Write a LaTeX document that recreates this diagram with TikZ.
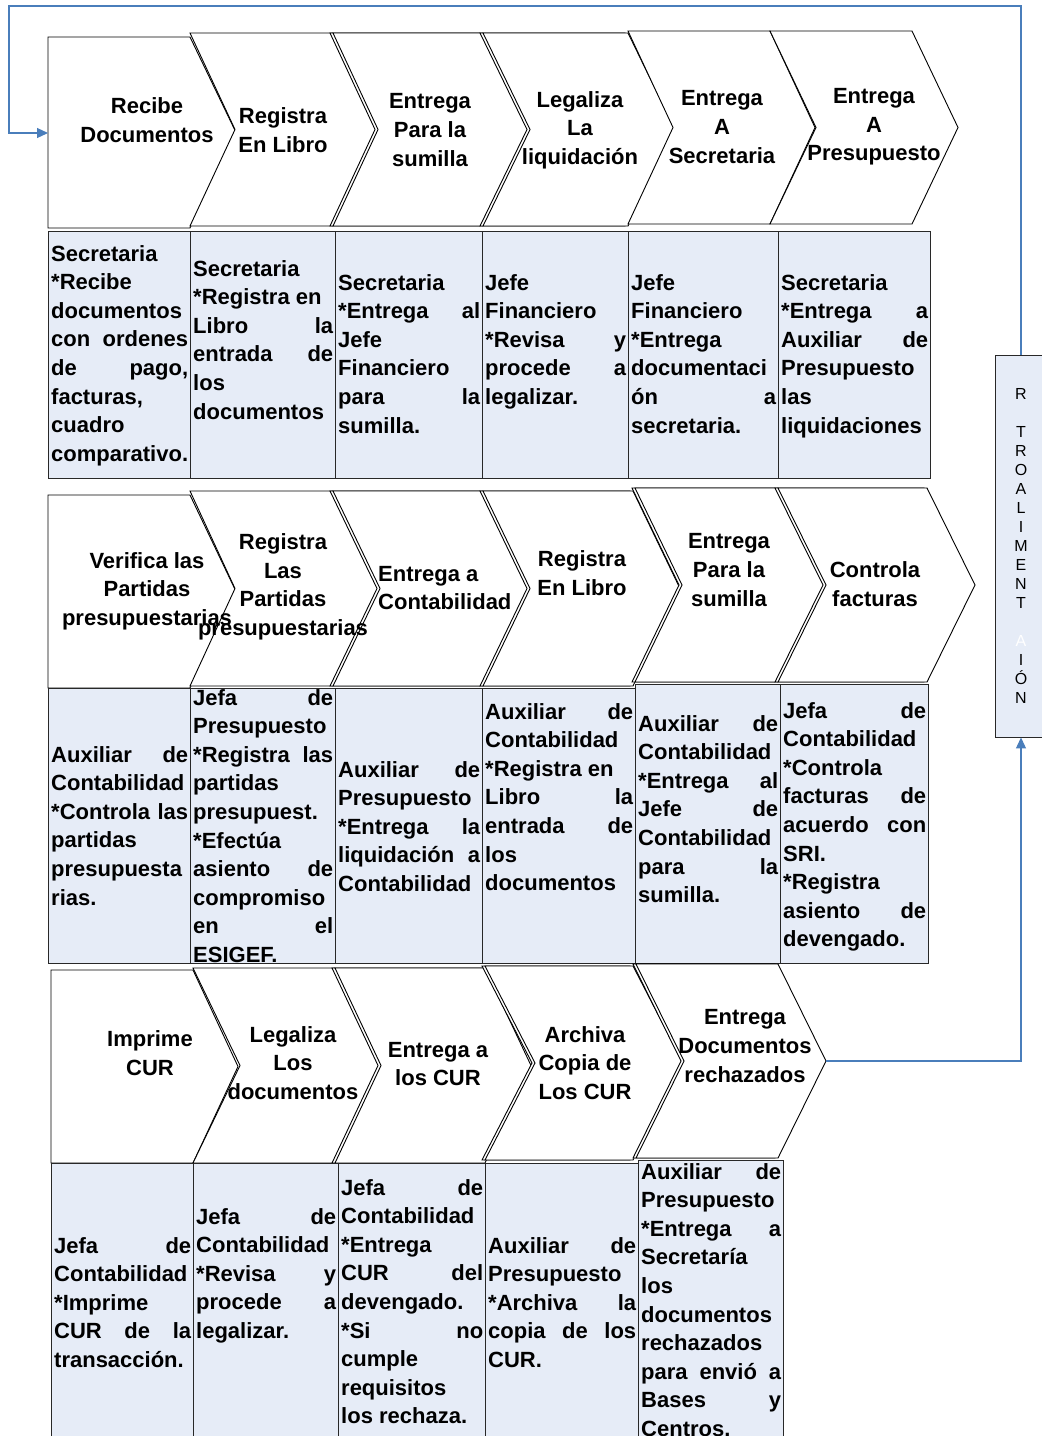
\documentclass[tikz,border=0pt]{standalone}
\usepackage{fontspec}
\setmainfont{Liberation Sans}
\usetikzlibrary{arrows.meta}
\definecolor{boxblue}{RGB}{230,236,247}
\definecolor{linkblue}{RGB}{74,126,187}
\definecolor{edge}{RGB}{40,40,40}
\newcommand{\jl}[2]{\hbox to #1pt{#2}}
% chevron: xl, xr, xp, yt, yb
\newcommand{\chevdraw}[5]{%
  \pgfmathsetmacro\ymid{(#4+#5)/2}%
  \pgfmathsetmacro\xnotch{#1+#3-#2}%
  \draw[chev] (#1,#4) -- (#2,#4) -- (#3,\ymid) -- (#2,#5) -- (#1,#5) -- (\xnotch,\ymid) -- cycle;}
\newcommand{\chevdbl}[5]{%
  \begin{scope}[xshift=-3pt]\chevdraw{#1}{#2}{#3}{#4}{#5}\end{scope}%
  \chevdraw{#1}{#2}{#3}{#4}{#5}}
\newcommand{\chevflat}[5]{%
  \pgfmathsetmacro\ymid{(#4+#5)/2}%
  \draw[chev] (#1,#4) -- (#2,#4) -- (#3,\ymid) -- (#2,#5) -- (#1,#5) -- cycle;}
\begin{document}
\begin{tikzpicture}[x=1pt,y=-1pt,
  chev/.style={draw=black,fill=white,line width=0.9pt},
  cell/.style={draw=edge,fill=boxblue,line width=0.9pt},
  head/.style={font=\fontsize{22}{28.6}\selectfont\bfseries,align=center,inner sep=0pt},
  desc/.style={font=\fontsize{22}{28.6}\selectfont\bfseries,align=left,inner sep=0pt,anchor=north west},
  link/.style={draw=linkblue,line width=1.2pt,-{Triangle[length=11pt,width=10pt]}},
  fbbox/.style={draw=edge,fill=boxblue,line width=0.9pt,minimum width=52pt,minimum height=382pt,inner sep=0pt,
    font=\fontsize{16}{19}\selectfont,align=center},
]
\useasboundingbox (0,0) rectangle (1042,1436);
\clip (0,0) rectangle (1042,1436);

% ---------- Row 1 chevrons ----------
\chevflat{48}{190}{236}{37}{228}
\chevdraw{190}{333}{378}{33}{226}
\chevdbl{333}{483}{528}{33}{226}
\chevdbl{483}{628}{675}{33}{226}
\chevdraw{628}{770}{815}{31}{224}
\chevdraw{770}{912}{958}{31}{224}
\coordinate (c1in) at (48,133);

\node[head] (h11) at (147,120) {Recibe\\Documentos};
\node[head] (h12) at (283,130) {Registra\\En Libro};
\node[head] (h13) at (430,130) {Entrega\\Para la\\sumilla};
\node[head] (h14) at (580,130) {Legaliza\\La\\liquidación};
\node[head] (h15) at (722,127) {Entrega\\A\\Secretaria};
\node[head] (h16) at (874,127) {Entrega\\A\\Presupuesto};

% ---------- Row 1 cells ----------
\draw[cell] (48,231) rectangle (190,478);
\draw[cell] (190,231) rectangle (335,478);
\draw[cell] (335,231) rectangle (482,478);
\draw[cell] (482,231) rectangle (628,478);
\draw[cell] (628,231) rectangle (778,478);
\draw[cell] (778,231) rectangle (930,478);

\node[desc] (d11) at (51,245) {Secretaria\\*Recibe\\documentos\\\jl{137}{con\hfill ordenes}\\\jl{137}{de\hfill pago,}\\facturas,\\cuadro\\comparativo.};
\node[desc] (d12) at (193,260) {Secretaria\\*Registra en\\\jl{140}{Libro\hfill la}\\\jl{140}{entrada\hfill de}\\los\\documentos};
\node[desc] (d13) at (338,274) {Secretaria\\\jl{142}{*Entrega\hfill al}\\Jefe\\Financiero\\\jl{142}{para\hfill la}\\sumilla.};
\node[desc] (d14) at (485,274) {Jefe\\Financiero\\\jl{141}{*Revisa\hfill y}\\\jl{141}{procede\hfill a}\\legalizar.};
\node[desc] (d15) at (631,274) {Jefe\\Financiero\\*Entrega\\documentaci\\\jl{145}{ón\hfill a}\\secretaria.};
\node[desc] (d16) at (781,274) {Secretaria\\\jl{147}{*Entrega\hfill a}\\\jl{147}{Auxiliar\hfill de}\\Presupuesto\\las\\liquidaciones};

% ---------- Row 2 chevrons ----------
\chevflat{48}{190}{236}{495}{688}
\chevdraw{190}{333}{378}{491}{686}
\chevdbl{333}{483}{530}{491}{686}
\chevdbl{483}{633}{680}{491}{686}
\chevdbl{635}{778}{825}{488}{682}
\chevdbl{778}{927}{975}{488}{682}

\node[head] (h21) at (147,591) {Verifica las\\Partidas\\presupuestarias};
\node[head] (h22) at (283,587) {Registra\\Las\\Partidas\\presupuestarias};
\node[head,align=left,anchor=west] (h23) at (378,588) {Entrega a\\Contabilidad};
\node[head] (h24) at (582,573) {Registra\\En Libro};
\node[head] (h25) at (729,570) {Entrega\\Para la\\sumilla};
\node[head] (h26) at (875,584) {Controla\\facturas};

% ---------- Row 2 cells ----------
\draw[cell] (48,688) rectangle (190,963);
\draw[cell] (190,688) rectangle (335,963);
\draw[cell] (335,688) rectangle (482,963);
\draw[cell] (482,688) rectangle (635,963);
\draw[cell] (635,684) rectangle (780,963);
\draw[cell] (780,684) rectangle (928,963);

\node[desc] (d21) at (51,746) {\jl{137}{Auxiliar\hfill de}\\Contabilidad\\\jl{137}{*Controla\hfill las}\\partidas\\presupuesta\\rias.};
\node[desc] (d22) at (193,689) {\jl{140}{Jefa\hfill de}\\Presupuesto\\\jl{140}{*Registra\hfill las}\\partidas\\presupuest.\\*Efectúa\\\jl{140}{asiento\hfill de}\\compromiso\\\jl{140}{en\hfill el}\\ESIGEF.};
\node[desc] (d23) at (338,761) {\jl{142}{Auxiliar\hfill de}\\Presupuesto\\\jl{142}{*Entrega\hfill la}\\\jl{142}{liquidación\hfill a}\\Contabilidad};
\node[desc] (d24) at (485,703) {\jl{148}{Auxiliar\hfill de}\\Contabilidad\\*Registra en\\\jl{148}{Libro\hfill la}\\\jl{148}{entrada\hfill de}\\los\\documentos};
\node[desc] (d25) at (638,715) {\jl{140}{Auxiliar\hfill de}\\Contabilidad\\\jl{140}{*Entrega\hfill al}\\\jl{140}{Jefe\hfill de}\\Contabilidad\\\jl{140}{para\hfill la}\\sumilla.};
\node[desc] (d26) at (783,702) {\jl{143}{Jefa\hfill de}\\Contabilidad\\*Controla\\\jl{143}{facturas\hfill de}\\\jl{143}{acuerdo\hfill con}\\SRI.\\*Registra\\\jl{143}{asiento\hfill de}\\devengado.};

% ---------- Row 3 chevrons ----------
\chevflat{51}{193}{238}{970}{1163}
\chevdraw{193}{335}{382}{968}{1163}
\chevdbl{335}{485}{531}{968}{1163}
\chevdbl{485}{633}{683}{966}{1160}
\chevdbl{636}{778}{826}{964}{1158}
\coordinate (e5out) at (826,1061);

\node[head] (h31) at (150,1053) {Imprime\\CUR};
\node[head] (h32) at (293,1063) {Legaliza\\Los\\documentos};
\node[head] (h33) at (438,1064) {Entrega a\\los CUR};
\node[head] (h34) at (585,1063) {Archiva\\Copia de\\Los CUR};
\node[head] (h35) at (745,1046) {Entrega\\Documentos\\rechazados};

% ---------- Row 3 cells ----------
\draw[cell] (51,1163) rectangle (193,1450);
\draw[cell] (193,1163) rectangle (338,1450);
\draw[cell] (338,1163) rectangle (485,1450);
\draw[cell] (485,1163) rectangle (638,1450);
\draw[cell] (638,1160) rectangle (783,1450);

\node[desc] (d31) at (54,1237) {\jl{137}{Jefa\hfill de}\\Contabilidad\\*Imprime\\\jl{137}{CUR\hfill de\hfill la}\\transacción.};
\node[desc] (d32) at (196,1208) {\jl{140}{Jefa\hfill de}\\Contabilidad\\\jl{140}{*Revisa\hfill y}\\\jl{140}{procede\hfill a}\\legalizar.};
\node[desc] (d33) at (341,1179) {\jl{142}{Jefa\hfill de}\\Contabilidad\\*Entrega\\\jl{142}{CUR\hfill del}\\devengado.\\\jl{142}{*Si\hfill no}\\cumple\\requisitos\\los rechaza.};
\node[desc] (d34) at (488,1237) {\jl{148}{Auxiliar\hfill de}\\Presupuesto\\\jl{148}{*Archiva\hfill la}\\\jl{148}{copia\hfill de\hfill los}\\CUR.};
\node[desc] (d35) at (641,1163) {\jl{140}{Auxiliar\hfill de}\\Presupuesto\\\jl{140}{*Entrega\hfill a}\\Secretaría\\los\\documentos\\rechazados\\\jl{140}{para\hfill envió\hfill a}\\\jl{140}{Bases\hfill y}\\Centros.};

% ---------- Feedback box ----------
\node[fbbox] (fb) at (1021,546) {R\\\mbox{}\\T\\R\\O\\A\\L\\I\\M\\E\\N\\T\\\mbox{}\\{\color{white}A}\\I\\Ó\\N};

\coordinate (t1) at (1021,6);
\coordinate (t2) at (9,6);
\coordinate (t3) at (9,133);
\coordinate (b1) at (1021,1061);

\draw[link] (fb.north) -- (t1) -- (t2) -- (t3) -- (c1in);
\draw[link] (e5out) -- (b1) -- (fb.south);
\end{tikzpicture}
\end{document}
